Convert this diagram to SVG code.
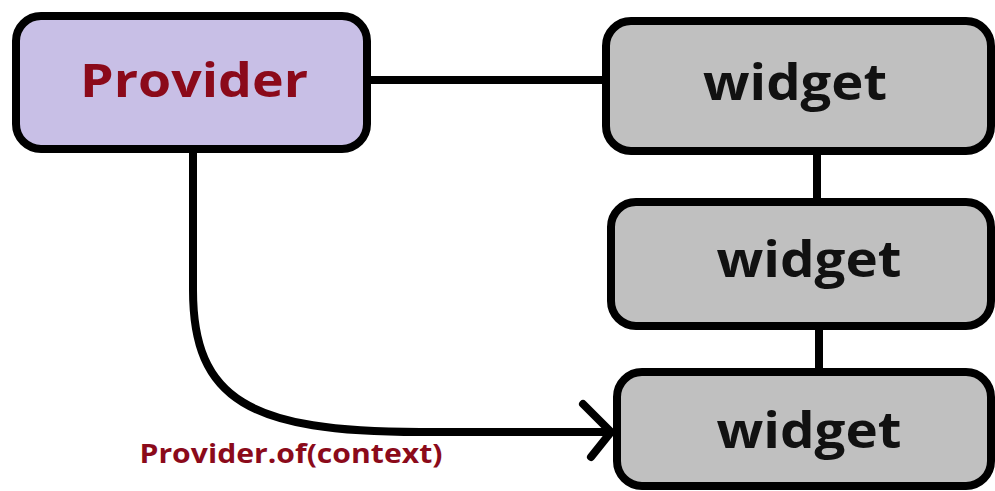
<svg xmlns="http://www.w3.org/2000/svg" width="995" height="491" viewBox="0 0 995 491">
<style>
.box{stroke:#000;stroke-width:8}
.prov{fill:#C8BFE6}
.wid{fill:#C0C0C0}
.t{font-family:"Open Sans","Liberation Sans",sans-serif;font-weight:bold;text-anchor:middle}
.pt{fill:#8B0A1A}
.wt{fill:#111}
.c{stroke:#000;stroke-width:8;fill:none}
</style>
<rect width="995" height="491" fill="#fff"/>
<g id="connectors">
<line class="c" x1="371" y1="80" x2="602" y2="80"/>
<line class="c" x1="817" y1="155" x2="817" y2="198"/>
<line class="c" x1="819" y1="330" x2="819" y2="368"/>
<path class="c" d="M193,153 L193,290 C193,400 250,432 420,432 L612,432"/>
<polyline class="c" points="583,404 611,432 591,457" stroke-linecap="round" stroke-linejoin="round"/>
<text class="t pt" x="291" y="463" font-size="27" textLength="303" lengthAdjust="spacingAndGlyphs">Provider.of(context)</text>
</g>
<g id="provider">
<rect class="box prov" x="16" y="16" width="351" height="133" rx="25"/>
<text class="t pt" x="194" y="97" font-size="47" textLength="228" lengthAdjust="spacingAndGlyphs">Provider</text>
</g>
<g id="widget1">
<rect class="box wid" x="606" y="21" width="385" height="130" rx="25"/>
<text class="t wt" x="795" y="100" font-size="50" textLength="184" lengthAdjust="spacingAndGlyphs">widget</text>
</g>
<g id="widget2">
<rect class="box wid" x="611" y="202" width="380" height="124" rx="25"/>
<text class="t wt" x="809" y="277" font-size="50" textLength="185" lengthAdjust="spacingAndGlyphs">widget</text>
</g>
<g id="widget3">
<rect class="box wid" x="617" y="372" width="374" height="114" rx="25"/>
<text class="t wt" x="809" y="448" font-size="50" textLength="185" lengthAdjust="spacingAndGlyphs">widget</text>
</g>
</svg>
